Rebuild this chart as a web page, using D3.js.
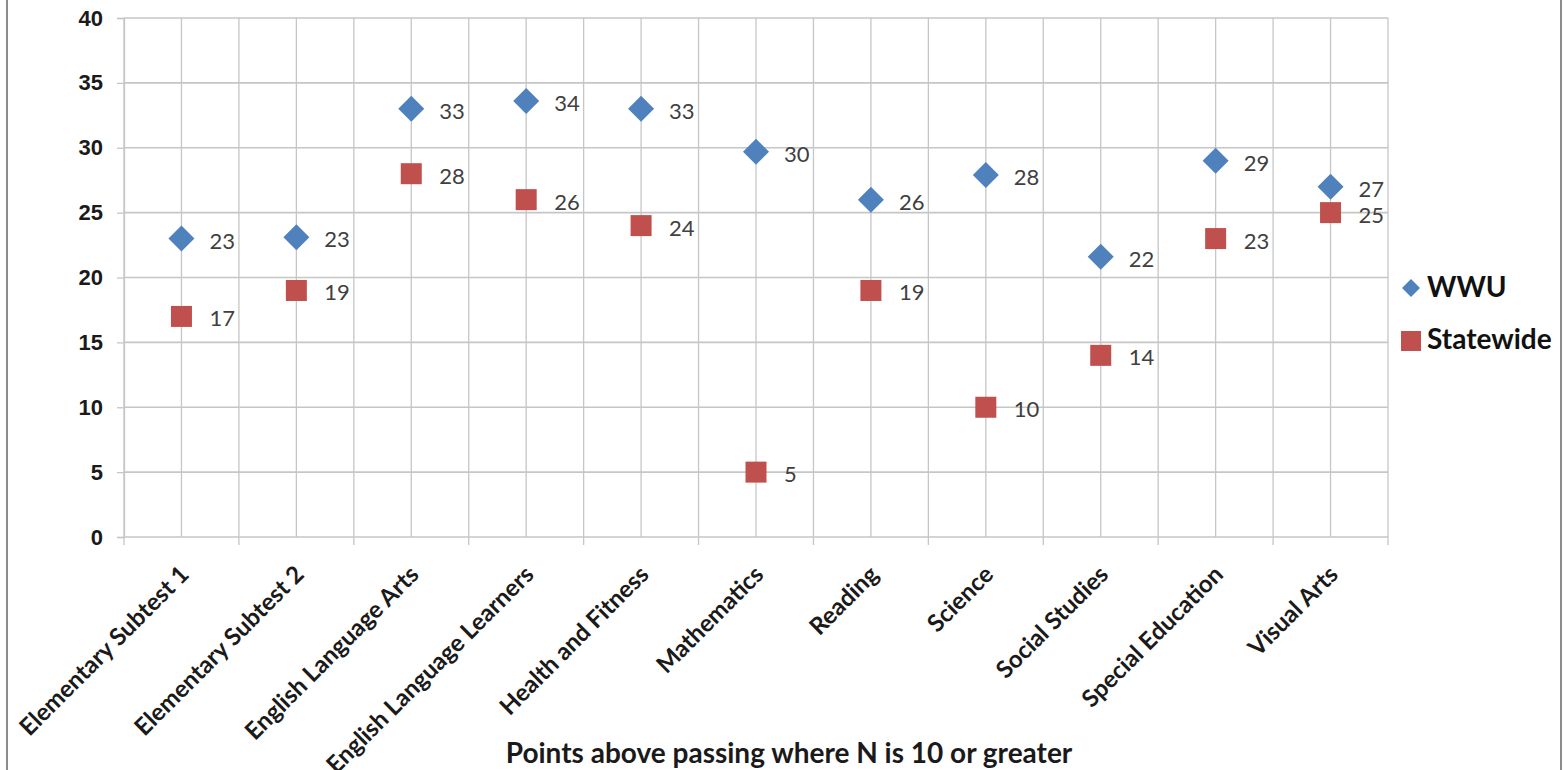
<!DOCTYPE html>
<html>
<head>
<meta charset="utf-8">
<script src="https://cdn.jsdelivr.net/npm/d3@7"></script>
<style>
  body { margin: 0; background: #fff; }
  svg { display: block; font-family: Lato, "Open Sans", sans-serif; }
</style>
</head>
<body>
<div id="vis"></div>
<script>
const categories = [
    "Elementary Subtest 1", "Elementary Subtest 2", "English Language Arts",
    "English Language Learners", "Health and Fitness", "Mathematics",
    "Reading", "Science", "Social Studies", "Special Education", "Visual Arts"
];
const wwuValues = [23, 23.1, 33, 33.6, 33, 29.7, 26, 27.9, 21.6, 29, 27];
const statewideValues = [17, 19, 28, 26, 24, 5, 19, 10, 14, 23, 25];
const yTicks = [0, 5, 10, 15, 20, 25, 30, 35, 40];
const seriesNames = ["WWU", "Statewide"];
const axisTitle = "Points above passing where N is 10 or greater";

const W = 1565, H = 770;
const plot = { left: 124, right: 1388, top: 18, bottom: 537 };
const blue = "#4F81BD", red = "#C0504D", grid = "#c6c6c6";

const svg = d3.select("#vis").append("svg")
    .attr("width", W)
    .attr("height", H);

// outer chart border
svg.append("rect")
    .attr("x", 7).attr("y", -5)
    .attr("width", 1554).attr("height", H + 10)
    .attr("fill", "none")
    .attr("stroke", "#8c8c8c")
    .attr("stroke-width", 2);

const x = d3.scaleBand()
    .domain(categories)
    .range([plot.left, plot.right])
    .padding(0);

const y = d3.scaleLinear()
    .domain([0, 40])
    .range([plot.bottom, plot.top]);

const cx = d => x(d) + x.bandwidth() / 2;

// vertical gridlines at category centers and boundaries
const vLines = [];
categories.forEach(c => { vLines.push(x(c)); vLines.push(cx(c)); });
vLines.push(plot.right);
svg.append("g").selectAll("line")
    .data(vLines)
    .join("line")
    .attr("x1", d => d).attr("x2", d => d)
    .attr("y1", plot.top).attr("y2", plot.bottom)
    .attr("stroke", grid)
    .attr("stroke-width", 1.3);

// y axis with horizontal gridlines
const yAxis = svg.append("g")
    .attr("transform", `translate(${plot.left},0)`)
    .call(d3.axisLeft(y).tickValues(yTicks).tickSize(7).tickPadding(14));
yAxis.select(".domain").attr("stroke", grid).attr("stroke-width", 1.3);
yAxis.selectAll(".tick line").attr("stroke", grid).attr("stroke-width", 1.3);
yAxis.selectAll(".tick text")
    .attr("fill", "#1a1a1a")
    .style("font-size", "22px")
    .style("font-weight", "bold");
svg.append("g").selectAll("line")
    .data(yTicks)
    .join("line")
    .attr("x1", plot.left).attr("x2", plot.right)
    .attr("y1", d => y(d)).attr("y2", d => y(d))
    .attr("stroke", grid)
    .attr("stroke-width", 1.6);

// x axis: ticks at category boundaries
const xAxis = svg.append("g")
    .attr("transform", `translate(0,${plot.bottom})`);
xAxis.selectAll("line")
    .data(vLines.filter((d, i) => i % 2 === 0))
    .join("line")
    .attr("x1", d => d).attr("x2", d => d)
    .attr("y1", 0).attr("y2", 8)
    .attr("stroke", grid)
    .attr("stroke-width", 1.3);
xAxis.selectAll("text")
    .data(categories)
    .join("text")
    .attr("transform", d => `translate(${cx(d) + 9},${39}) rotate(-45)`)
    .attr("text-anchor", "end")
    .attr("fill", "#1a1a1a")
    .style("font-size", "24px")
    .style("font-weight", "bold")
    .text(d => d);

svg.append("text")
    .attr("x", 789)
    .attr("y", 763)
    .attr("text-anchor", "middle")
    .attr("fill", "#1a1a1a")
    .style("font-size", "28px")
    .style("font-weight", "bold")
    .text(axisTitle);

const diamond = s => `M0,${-s}L${s},0L0,${s}L${-s},0Z`;

// statewide squares
svg.append("g").selectAll("rect")
    .data(categories.map((c, i) => ({ c, v: statewideValues[i] })))
    .join("rect")
    .attr("x", d => cx(d.c) - 10.5)
    .attr("y", d => y(d.v) - 10.5)
    .attr("width", 21).attr("height", 21)
    .attr("fill", red);

// WWU diamonds
svg.append("g").selectAll("path")
    .data(categories.map((c, i) => ({ c, v: wwuValues[i] })))
    .join("path")
    .attr("transform", d => `translate(${cx(d.c)},${y(d.v)})`)
    .attr("d", diamond(13))
    .attr("fill", blue);

// data labels
const labelData = [
    ...categories.map((c, i) => ({ c, v: wwuValues[i] })),
    ...categories.map((c, i) => ({ c, v: statewideValues[i] }))
];
svg.append("g").selectAll("text")
    .data(labelData)
    .join("text")
    .attr("x", d => cx(d.c) + 28)
    .attr("y", d => y(d.v) + 10)
    .attr("fill", "#404040")
    .style("font-size", "22px")
    .text(d => d3.format(".0f")(d.v));

// legend
const legend = svg.append("g");
legend.append("path")
    .attr("transform", "translate(1411,288)")
    .attr("d", diamond(9))
    .attr("fill", blue);
legend.append("rect")
    .attr("x", 1401).attr("y", 331)
    .attr("width", 20).attr("height", 20)
    .attr("fill", red);
legend.selectAll("text")
    .data(seriesNames)
    .join("text")
    .attr("x", 1427)
    .attr("y", (d, i) => 297 + i * 52)
    .attr("fill", "#111")
    .style("font-size", "28px")
    .style("font-weight", "bold")
    .text(d => d);
</script>
</body>
</html>
